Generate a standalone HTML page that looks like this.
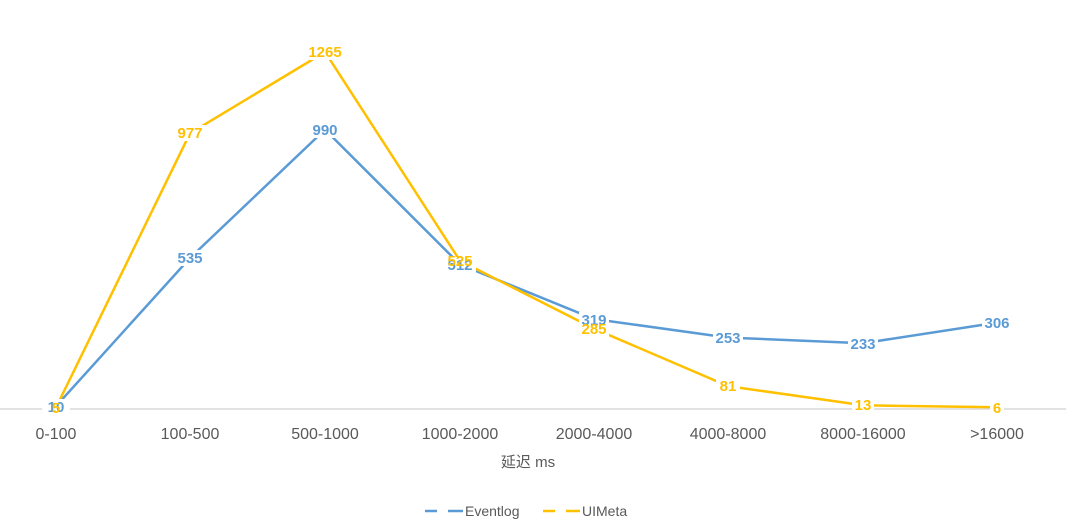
<!DOCTYPE html>
<html><head><meta charset="utf-8"><style>
body{margin:0;background:#fff;}
svg{display:block;font-family:"Liberation Sans","Noto Sans CJK SC",sans-serif;}
.t{font-size:16px;fill:#595959;text-anchor:middle;}
.lb{font-size:15px;font-weight:bold;text-anchor:middle;}
</style></head><body>
<svg width="1080" height="531" viewBox="0 0 1080 531">
<line x1="0" y1="409" x2="1066" y2="409" stroke="#d9d9d9" stroke-width="1.5"/>
<polyline fill="none" stroke="#5b9bd5" stroke-width="2.5" points="56,406.2 190,258 325,129.6 460,264.5 594,319 728,337.6 863,343.2 997,322.6"/>
<polyline fill="none" stroke="#ffc000" stroke-width="2.5" points="56,407.6 190,133.3 325,52 460,260.8 594,328.6 728,386.1 863,405.3 997,407.3"/>
<g class="lb">
<g fill="#fff">
<rect x="42" y="399" width="28" height="16"/>
<rect x="175" y="250" width="30" height="16"/><rect x="309" y="122" width="32" height="16"/>
<rect x="444" y="257" width="32" height="16"/><rect x="579" y="312" width="30" height="16"/>
<rect x="713" y="330" width="30" height="16"/><rect x="848" y="336" width="30" height="16"/>
<rect x="982" y="315" width="30" height="16"/>
<rect x="175" y="125" width="30" height="16"/><rect x="305" y="44" width="40" height="16"/>
<rect x="579" y="321" width="30" height="16"/><rect x="716" y="378" width="24" height="16"/>
<rect x="852" y="397" width="22" height="16"/><rect x="990" y="400" width="14" height="16"/>
</g>
<g fill="#5b9bd5">
<text x="56" y="412">10</text><text x="190" y="263">535</text><text x="325" y="135">990</text>
<text x="460" y="270">512</text><text x="594" y="325">319</text><text x="728" y="343">253</text>
<text x="863" y="349">233</text><text x="997" y="328">306</text>
</g>
<g fill="#ffc000">
<text x="56" y="413">5</text><text x="190" y="138">977</text><text x="325" y="57">1265</text>
<text x="460" y="266">525</text><text x="594" y="334">285</text><text x="728" y="391">81</text>
<text x="863" y="410">13</text><text x="997" y="413">6</text>
</g>
</g>
<g class="t">
<text x="56" y="439">0-100</text><text x="190" y="439">100-500</text><text x="325" y="439">500-1000</text>
<text x="460" y="439">1000-2000</text><text x="594" y="439">2000-4000</text><text x="728" y="439">4000-8000</text>
<text x="863" y="439">8000-16000</text><text x="997" y="439">&gt;16000</text>
<text x="528" y="467" font-size="15">延迟 ms</text>
</g>
<line x1="425" y1="511" x2="437" y2="511" stroke="#5b9bd5" stroke-width="2.5"/>
<line x1="448" y1="511" x2="463" y2="511" stroke="#5b9bd5" stroke-width="2.5"/>
<text x="465" y="516" font-size="14" fill="#595959">Eventlog</text>
<line x1="543" y1="511" x2="555" y2="511" stroke="#ffc000" stroke-width="2.5"/>
<line x1="566" y1="511" x2="580" y2="511" stroke="#ffc000" stroke-width="2.5"/>
<text x="582" y="516" font-size="14" fill="#595959">UIMeta</text>
</svg>
</body></html>
